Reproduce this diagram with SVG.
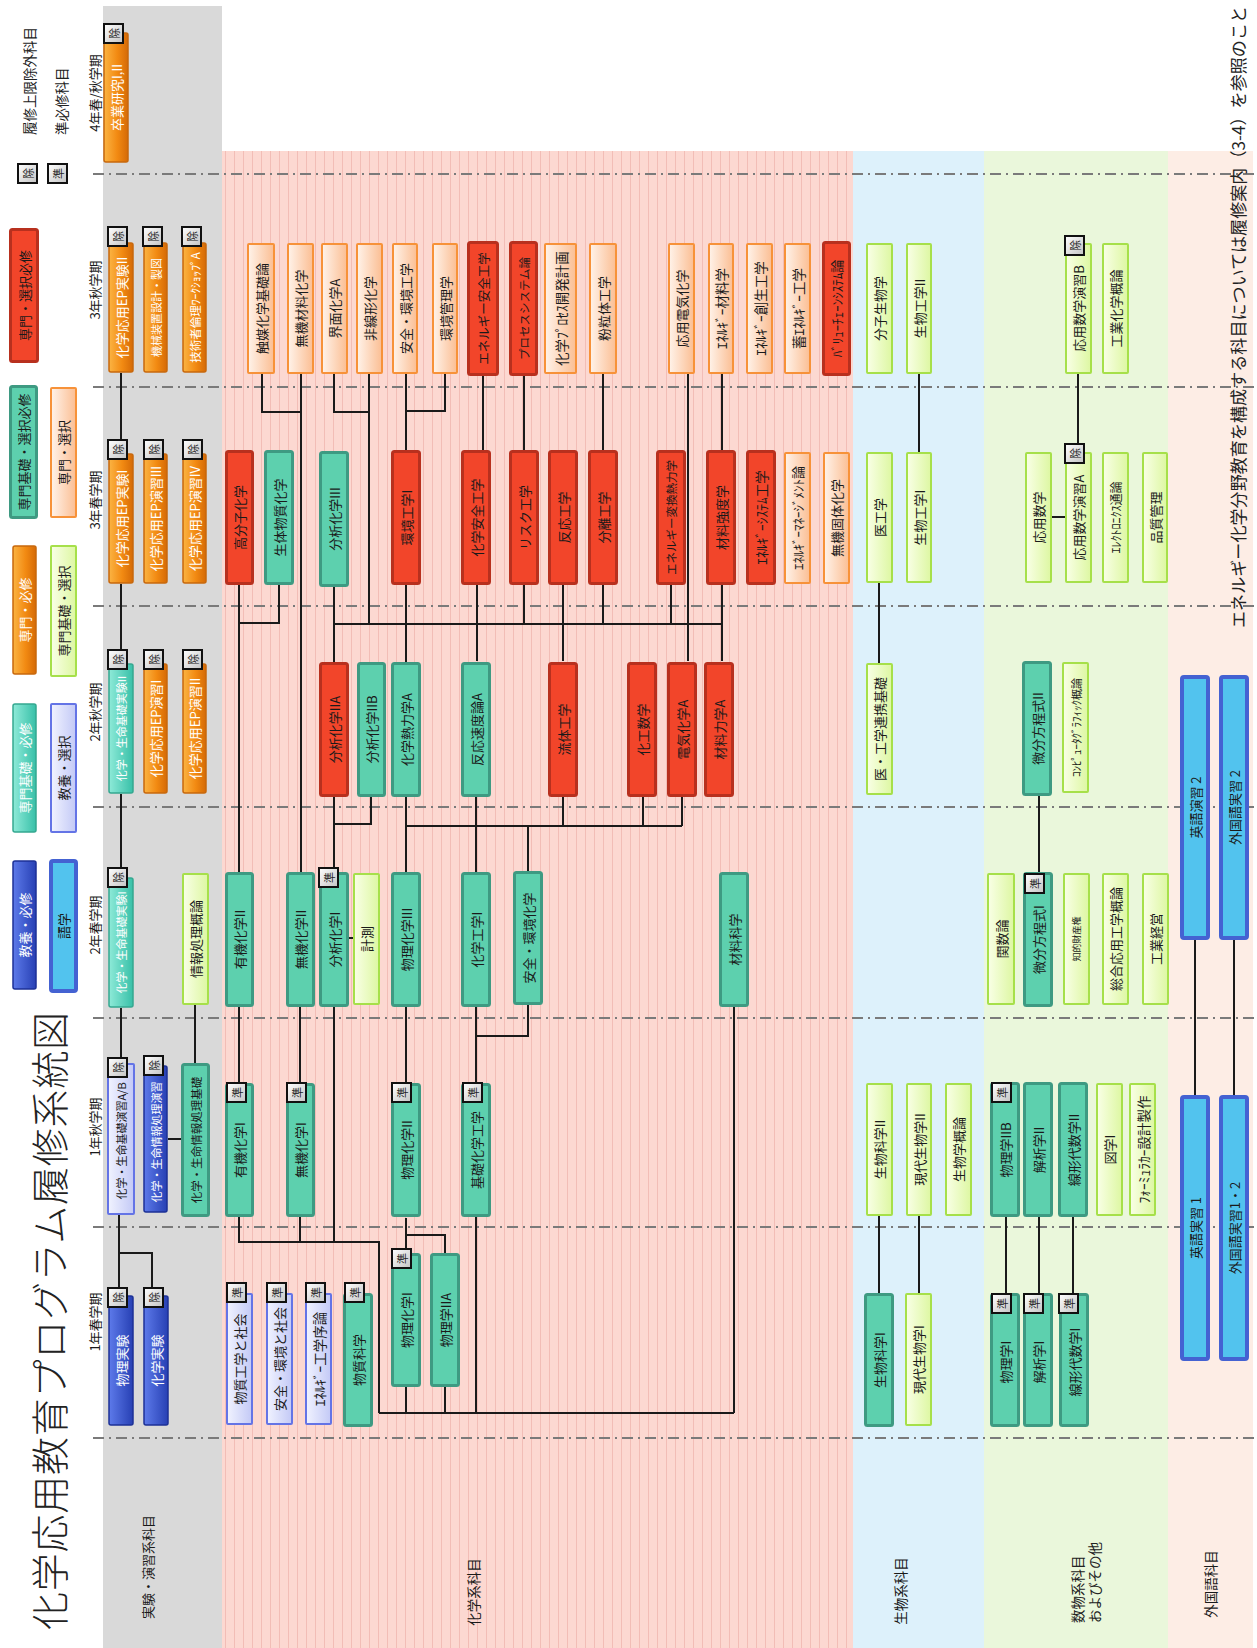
<svg xmlns="http://www.w3.org/2000/svg" width="1257" height="1648" viewBox="0 0 1257 1648">
<defs>
<pattern id="stripe" width="9" height="12" patternUnits="userSpaceOnUse"><rect width="9" height="12" fill="#FCD8D1"/><rect x="0" width="1" height="12" fill="#F2BDB6"/></pattern>
<linearGradient id="gOrange" x1="0" y1="0" x2="1" y2="0"><stop offset="0" stop-color="#FBB443"/><stop offset="0.55" stop-color="#F28A12"/><stop offset="1" stop-color="#D56A06"/></linearGradient>
<linearGradient id="gTealB" x1="0" y1="0" x2="1" y2="0"><stop offset="0" stop-color="#8EEAD8"/><stop offset="1" stop-color="#38C0A8"/></linearGradient>
<linearGradient id="gBlue" x1="0" y1="0" x2="1" y2="0"><stop offset="0" stop-color="#5D7AEA"/><stop offset="1" stop-color="#2740B4"/></linearGradient>
<linearGradient id="gLav" x1="0" y1="0" x2="1" y2="0"><stop offset="0" stop-color="#F1F3FF"/><stop offset="1" stop-color="#C3C9F6"/></linearGradient>
<linearGradient id="gPeach" x1="0" y1="0" x2="1" y2="0"><stop offset="0" stop-color="#FFF3EA"/><stop offset="1" stop-color="#FBBE93"/></linearGradient>
<linearGradient id="gGreen" x1="0" y1="0" x2="1" y2="0"><stop offset="0" stop-color="#F9FFE6"/><stop offset="1" stop-color="#DDF7A2"/></linearGradient>
<linearGradient id="gBadge" x1="0" y1="0" x2="1" y2="1"><stop offset="0" stop-color="#FFFFFF"/><stop offset="1" stop-color="#C4C4C4"/></linearGradient>
</defs>
<style>
.t{font-family:"Noto Sans CJK JP","Noto Sans",sans-serif;font-size:13px;fill:#1a1a1a;text-anchor:middle;dominant-baseline:central}
.tw{fill:#ffffff}
.lb{font-family:"Noto Sans CJK JP","Noto Sans",sans-serif;font-size:13px;fill:#222;dominant-baseline:central}
.orange{fill:url(#gOrange);stroke:#C8680C;stroke-width:1.5}
.tealb{fill:url(#gTealB);stroke:#34A890;stroke-width:1.5}
.blue{fill:url(#gBlue);stroke:#1C3196;stroke-width:1.5}
.lav{fill:url(#gLav);stroke:#6474E6;stroke-width:2}
.teal{fill:#5DD0AE;stroke:#3E9A82;stroke-width:3}
.red{fill:#F2452A;stroke:#B8301E;stroke-width:3}
.peach{fill:url(#gPeach);stroke:#F79239;stroke-width:2}
.green{fill:url(#gGreen);stroke:#A6E04A;stroke-width:2}
.lang{fill:#52C3EE;stroke:#4462D2;stroke-width:4}
.bdg{fill:url(#gBadge);stroke:#111;stroke-width:2}
.bt{font-family:"Noto Sans CJK JP",sans-serif;font-size:11px;fill:#222;text-anchor:middle;dominant-baseline:central}
.sep{stroke:#7a7a7a;stroke-width:2;stroke-dasharray:11 5 2 5;fill:none}
.cn{stroke:#1a1a1a;stroke-width:2;fill:none}
</style>

<!-- backgrounds -->
<g id="bands">
<rect x="103" y="6" width="119" height="1642" fill="#D9D9D9"/>
<rect x="222" y="151" width="631" height="1497" fill="url(#stripe)"/>
<rect x="853" y="151" width="131" height="1497" fill="#DDF1FB"/>
<rect x="984" y="151" width="184" height="1497" fill="#EAF7DB"/>
<rect x="1168" y="151" width="85" height="1497" fill="#FDEDE5"/>
</g>
<g id="separators">
<path class="sep" d="M93 174H1255M93 387H1255M93 606H1255M93 807H1255M93 1018H1255M93 1227H1255M93 1438H1255"/>
</g>

<!-- title, legend, labels -->
<text class="lb" style="font-size:38px;text-anchor:middle;font-weight:300" transform="translate(47 1321) rotate(-90)" textLength="618">化学応用教育プログラム履修系統図</text>
<text class="lb" style="font-size:17px" transform="translate(1237 628) rotate(-90)" textLength="622">エネルギー化学分野教育を構成する科目については履修案内（3-4）を参照のこと</text>

<g id="legend">
<rect class="red" x="10.5" y="229.5" width="27" height="132" rx="2"/><text class="t" transform="translate(24 295.5) rotate(-90)">専門・選択必修</text>
<rect class="teal" x="10.5" y="386.5" width="26" height="131" rx="2"/><text class="t" transform="translate(23.5 452) rotate(-90)">専門基礎・選択必修</text>
<rect class="peach" x="51" y="388" width="25" height="129" rx="1"/><text class="t" transform="translate(63.5 452.5) rotate(-90)">専門・選択</text>
<rect class="orange" x="13" y="546" width="23" height="128" rx="2"/><text class="t tw" transform="translate(24.5 610) rotate(-90)">専門・必修</text>
<rect class="green" x="51" y="546" width="25" height="130" rx="1"/><text class="t" transform="translate(63.5 611) rotate(-90)">専門基礎・選択</text>
<rect class="tealb" x="13" y="704" width="23" height="128" rx="2"/><text class="t tw" transform="translate(24.5 768) rotate(-90)">専門基礎・必修</text>
<rect class="lav" x="51" y="704" width="25" height="128" rx="1"/><text class="t" transform="translate(63.5 768) rotate(-90)">教養・選択</text>
<rect class="blue" x="13" y="861" width="23" height="128" rx="2"/><text class="t tw" transform="translate(24.5 925) rotate(-90)">教養・必修</text>
<rect class="lang" x="51" y="861" width="25" height="130" rx="2"/><text class="t" transform="translate(63.5 926) rotate(-90)">語学</text>
<rect class="bdg" x="18" y="164" width="19" height="19"/><text class="bt" transform="translate(27.5 173.5) rotate(-90)">除</text>
<rect class="bdg" x="48" y="164" width="19" height="19"/><text class="bt" transform="translate(57.5 173.5) rotate(-90)">準</text>
<text class="lb" style="font-size:13.5px" transform="translate(28.5 135) rotate(-90)">履修上限除外科目</text>
<text class="lb" style="font-size:13.5px" transform="translate(61 135) rotate(-90)">準必修科目</text>
</g>

<g id="period-labels">
<text class="t" transform="translate(94 93) rotate(-90)">4年春/秋学期</text>
<text class="t" transform="translate(94 290) rotate(-90)">3年秋学期</text>
<text class="t" transform="translate(94 500) rotate(-90)">3年春学期</text>
<text class="t" transform="translate(94 712) rotate(-90)">2年秋学期</text>
<text class="t" transform="translate(94 925) rotate(-90)">2年春学期</text>
<text class="t" transform="translate(94 1127) rotate(-90)">1年秋学期</text>
<text class="t" transform="translate(94 1322) rotate(-90)">1年春学期</text>
</g>

<g id="category-labels">
<text class="t" transform="translate(147 1567) rotate(-90)">実験・演習系科目</text>
<text class="t" style="font-size:13.5px" transform="translate(473 1592) rotate(-90)">化学系科目</text>
<text class="t" style="font-size:13.5px" transform="translate(900 1591) rotate(-90)">生物系科目</text>
<text class="lb" style="font-size:13.5px" transform="translate(1077 1623) rotate(-90)">数物系科目</text>
<text class="lb" style="font-size:13.5px" transform="translate(1094 1623) rotate(-90)">およびその他</text>
<text class="t" style="font-size:13.5px" transform="translate(1210 1584) rotate(-90)">外国語科目</text>
</g>

<!-- connectors -->
<g id="connectors" class="cn">
<path class="cn" d="M121 373V439M121 584V649M121 794V867M121 1008V1057M119 1215V1287M119 1253H152V1287M195 1005V1063M168 1139H181"/>
<path class="cn" d="M262 374V412H301M301 374V872M334 374V412H369M369 374V624M406 374V450M445 374V411H406M483 374V450M524 374V450M603 374V450M688 374V661M722 374V450"/>
<path class="cn" d="M239 585V872M279 585V623H239M334 587V662M334 624H722M406 585V662M477 585V661M524 585V624M563 585V661M603 585V624M671 585V624M722 585V661"/>
<path class="cn" d="M334 797V824H371V797M334 824V867M406 797V872M406 826H682M476 797V872M528 826V871M563 797V826M643 797V826M682 797V826"/>
<path class="cn" d="M239 1007V1083M300 1007V1083M334 1007V1242M349 938H353M406 1007V1082M476 1007V1082M528 1005V1036H476M734 1007V1413"/>
<path class="cn" d="M239 1217V1242H379V1413M300 1217V1242M406 1218V1248M406 1235H445V1253M476 1217V1413M406 1387V1413M445 1387V1413M379 1413H734"/>
<path class="cn" d="M919 374V452M879 583V663M1078 374V443M1052 517H1065M1039 796V872M879 1216V1293M919 1216V1293M1006 1217V1293M1039 1217V1293M1073 1217V1293M1195 940V1095M1234 940V1095"/>
</g>

<!-- experiment column -->
<g id="n01"><rect class="orange" x="104" y="33" width="24" height="129" rx="2"/><text class="t tw" transform="translate(116 97.5) rotate(-90)">卒業研究I,II</text><rect class="bdg" x="104" y="24" width="19" height="19"/><text class="bt" transform="translate(113.5 33.5) rotate(-90)">除</text></g>
<g id="n02"><rect class="orange" x="109" y="243" width="24" height="129" rx="2"/><text class="t tw" transform="translate(121 307.5) rotate(-90)">化学応用EP実験II</text><rect class="bdg" x="108" y="227" width="19" height="19"/><text class="bt" transform="translate(117.5 236.5) rotate(-90)">除</text></g>
<g id="n03"><rect class="orange" x="144" y="243" width="23" height="129" rx="2"/><text class="t tw" style="font-size:11px" transform="translate(155.5 307.5) rotate(-90)">機械装置設計・製図</text><rect class="bdg" x="143" y="227" width="19" height="19"/><text class="bt" transform="translate(152.5 236.5) rotate(-90)">除</text></g>
<g id="n04"><rect class="orange" x="183" y="243" width="23" height="129" rx="2"/><text class="t tw" style="font-size:11.5px" transform="translate(194.5 307.5) rotate(-90)">技術者倫理ﾜｰｸｼｮｯﾌﾟA</text><rect class="bdg" x="182" y="227" width="19" height="19"/><text class="bt" transform="translate(191.5 236.5) rotate(-90)">除</text></g>
<g id="n05"><rect class="orange" x="109" y="454" width="24" height="129" rx="2"/><text class="t tw" transform="translate(121 518.5) rotate(-90)">化学応用EP実験I</text><rect class="bdg" x="108" y="440" width="19" height="19"/><text class="bt" transform="translate(117.5 449.5) rotate(-90)">除</text></g>
<g id="n06"><rect class="orange" x="144" y="454" width="23" height="129" rx="2"/><text class="t tw" transform="translate(155.5 518.5) rotate(-90)">化学応用EP演習III</text><rect class="bdg" x="144" y="440" width="19" height="19"/><text class="bt" transform="translate(153.5 449.5) rotate(-90)">除</text></g>
<g id="n07"><rect class="orange" x="183" y="454" width="23" height="129" rx="2"/><text class="t tw" transform="translate(194.5 518.5) rotate(-90)">化学応用EP演習IV</text><rect class="bdg" x="183" y="440" width="19" height="19"/><text class="bt" transform="translate(192.5 449.5) rotate(-90)">除</text></g>
<g id="n08"><rect class="tealb" x="109" y="664" width="24" height="129" rx="2"/><text class="t tw" style="font-size:11px" transform="translate(121 728.5) rotate(-90)">化学・生命基礎実験II</text><rect class="bdg" x="108" y="650" width="19" height="19"/><text class="bt" transform="translate(117.5 659.5) rotate(-90)">除</text></g>
<g id="n09"><rect class="orange" x="144" y="664" width="23" height="129" rx="2"/><text class="t tw" transform="translate(155.5 728.5) rotate(-90)">化学応用EP演習I</text><rect class="bdg" x="144" y="650" width="19" height="19"/><text class="bt" transform="translate(153.5 659.5) rotate(-90)">除</text></g>
<g id="n10"><rect class="orange" x="183" y="664" width="23" height="129" rx="2"/><text class="t tw" transform="translate(194.5 728.5) rotate(-90)">化学応用EP演習II</text><rect class="bdg" x="183" y="650" width="19" height="19"/><text class="bt" transform="translate(192.5 659.5) rotate(-90)">除</text></g>
<g id="n11"><rect class="tealb" x="109" y="878" width="24" height="129" rx="2"/><text class="t tw" style="font-size:11px" transform="translate(121 942.5) rotate(-90)">化学・生命基礎実験I</text><rect class="bdg" x="108" y="868" width="19" height="19"/><text class="bt" transform="translate(117.5 877.5) rotate(-90)">除</text></g>
<g id="n12"><rect class="green" x="183" y="874" width="25" height="130" rx="1"/><text class="t" transform="translate(195.5 939) rotate(-90)">情報処理概論</text></g>
<g id="n13"><rect class="lav" x="108" y="1064" width="26" height="150" rx="1"/><text class="t" style="font-size:11px" transform="translate(121 1141) rotate(-90)">化学・生命基礎演習A/B</text><rect class="bdg" x="108" y="1058" width="19" height="19"/><text class="bt" transform="translate(117.5 1067.5) rotate(-90)">除</text></g>
<g id="n14"><rect class="blue" x="144" y="1066" width="23" height="146" rx="2"/><text class="t tw" style="font-size:11px" transform="translate(155.5 1142) rotate(-90)">化学・生命情報処理演習</text><rect class="bdg" x="144" y="1056" width="19" height="19"/><text class="bt" transform="translate(153.5 1065.5) rotate(-90)">除</text></g>
<g id="n15"><rect class="teal" x="182.5" y="1064.5" width="26" height="151" rx="2"/><text class="t" style="font-size:11.5px" transform="translate(195.5 1140) rotate(-90)">化学・生命情報処理基礎</text></g>
<g id="n16"><rect class="blue" x="109" y="1296" width="24" height="129" rx="2"/><text class="t tw" transform="translate(121 1360.5) rotate(-90)">物理実験</text><rect class="bdg" x="108" y="1288" width="19" height="19"/><text class="bt" transform="translate(117.5 1297.5) rotate(-90)">除</text></g>
<g id="n17"><rect class="blue" x="144" y="1296" width="24" height="129" rx="2"/><text class="t tw" transform="translate(156 1360.5) rotate(-90)">化学実験</text><rect class="bdg" x="144" y="1288" width="19" height="19"/><text class="bt" transform="translate(153.5 1297.5) rotate(-90)">除</text></g>

<!-- 3年秋 -->
<g id="n18"><rect class="peach" x="248" y="244" width="26" height="129" rx="1"/><text class="t" transform="translate(261 308.5) rotate(-90)">触媒化学基礎論</text></g>
<g id="n19"><rect class="peach" x="288" y="244" width="25" height="129" rx="1"/><text class="t" transform="translate(300.5 308.5) rotate(-90)">無機材料化学</text></g>
<g id="n20"><rect class="peach" x="322" y="244" width="25" height="129" rx="1"/><text class="t" transform="translate(334.5 308.5) rotate(-90)">界面化学A</text></g>
<g id="n21"><rect class="peach" x="357" y="244" width="25" height="129" rx="1"/><text class="t" transform="translate(369.5 308.5) rotate(-90)">非線形化学</text></g>
<g id="n22"><rect class="peach" x="393" y="244" width="24" height="129" rx="1"/><text class="t" transform="translate(405 308.5) rotate(-90)">安全・環境工学</text></g>
<g id="n23"><rect class="peach" x="433" y="244" width="24" height="129" rx="1"/><text class="t" transform="translate(445 308.5) rotate(-90)">環境管理学</text></g>
<g id="n24"><rect class="red" x="468.5" y="242.5" width="29" height="132" rx="2"/><text class="t" style="font-size:12.5px" transform="translate(483 308.5) rotate(-90)">エネルギー安全工学</text></g>
<g id="n25"><rect class="red" x="510.5" y="242.5" width="26" height="132" rx="2"/><text class="t" style="font-size:11.5px" transform="translate(523.5 308.5) rotate(-90)">プロセスシステム論</text></g>
<g id="n26"><rect class="peach" x="545" y="244" width="31" height="129" rx="1"/><text class="t" style="font-size:13.5px" transform="translate(560.5 308.5) rotate(-90)">化学ﾌﾟﾛｾｽ開発計画</text></g>
<g id="n27"><rect class="peach" x="590" y="244" width="26" height="129" rx="1"/><text class="t" transform="translate(603 308.5) rotate(-90)">粉粒体工学</text></g>
<g id="n28"><rect class="peach" x="669" y="244" width="25" height="129" rx="1"/><text class="t" transform="translate(681.5 308.5) rotate(-90)">応用電気化学</text></g>
<g id="n29"><rect class="peach" x="709" y="244" width="24" height="129" rx="1"/><text class="t" style="font-size:13.5px" transform="translate(721 308.5) rotate(-90)">ｴﾈﾙｷﾞｰ材料学</text></g>
<g id="n30"><rect class="peach" x="747" y="244" width="25" height="129" rx="1"/><text class="t" style="font-size:13.5px" transform="translate(759.5 308.5) rotate(-90)">ｴﾈﾙｷﾞｰ創生工学</text></g>
<g id="n31"><rect class="peach" x="785" y="244" width="25" height="129" rx="1"/><text class="t" style="font-size:13.5px" transform="translate(797.5 308.5) rotate(-90)">蓄ｴﾈﾙｷﾞｰ工学</text></g>
<g id="n32"><rect class="red" x="823.5" y="242.5" width="26" height="132" rx="2"/><text class="t" transform="translate(836.5 308.5) rotate(-90)">ﾊﾞﾘｭｰﾁｪｰﾝｼｽﾃﾑ論</text></g>
<g id="n33"><rect class="green" x="867" y="244" width="25" height="129" rx="1"/><text class="t" transform="translate(879.5 308.5) rotate(-90)">分子生物学</text></g>
<g id="n34"><rect class="green" x="907" y="244" width="24" height="129" rx="1"/><text class="t" transform="translate(919 308.5) rotate(-90)">生物工学II</text></g>
<g id="n35"><rect class="green" x="1066" y="244" width="25" height="129" rx="1"/><text class="t" transform="translate(1078.5 308.5) rotate(-90)">応用数学演習B</text><rect class="bdg" x="1065" y="236" width="19" height="19"/><text class="bt" transform="translate(1074.5 245.5) rotate(-90)">除</text></g>
<g id="n36"><rect class="green" x="1103" y="244" width="25" height="129" rx="1"/><text class="t" transform="translate(1115.5 308.5) rotate(-90)">工業化学概論</text></g>

<!-- 3年春 -->
<g id="n37"><rect class="red" x="226.5" y="451.5" width="26" height="132" rx="2"/><text class="t" transform="translate(239.5 517.5) rotate(-90)">高分子化学</text></g>
<g id="n38"><rect class="teal" x="265.5" y="451.5" width="27" height="132" rx="2"/><text class="t" transform="translate(279 517.5) rotate(-90)">生体物質化学</text></g>
<g id="n39"><rect class="teal" x="320.5" y="452.5" width="27" height="133" rx="2"/><text class="t" transform="translate(334 519) rotate(-90)">分析化学III</text></g>
<g id="n40"><rect class="red" x="392.5" y="451.5" width="27" height="132" rx="2"/><text class="t" transform="translate(406 517.5) rotate(-90)">環境工学I</text></g>
<g id="n41"><rect class="red" x="462.5" y="451.5" width="27" height="132" rx="2"/><text class="t" transform="translate(476 517.5) rotate(-90)">化学安全工学</text></g>
<g id="n42"><rect class="red" x="510.5" y="451.5" width="27" height="132" rx="2"/><text class="t" transform="translate(524 517.5) rotate(-90)">リスク工学</text></g>
<g id="n43"><rect class="red" x="549.5" y="451.5" width="27" height="132" rx="2"/><text class="t" transform="translate(563 517.5) rotate(-90)">反応工学</text></g>
<g id="n44"><rect class="red" x="589.5" y="451.5" width="27" height="132" rx="2"/><text class="t" transform="translate(603 517.5) rotate(-90)">分離工学</text></g>
<g id="n45"><rect class="red" x="657.5" y="451.5" width="27" height="132" rx="2"/><text class="t" style="font-size:11.5px" transform="translate(671 517.5) rotate(-90)">エネルギー変換熱力学</text></g>
<g id="n46"><rect class="red" x="707.5" y="451.5" width="27" height="132" rx="2"/><text class="t" transform="translate(721 517.5) rotate(-90)">材料強度学</text></g>
<g id="n47"><rect class="red" x="747.5" y="451.5" width="27" height="132" rx="2"/><text class="t" style="font-size:13.5px" transform="translate(761 517.5) rotate(-90)">ｴﾈﾙｷﾞｰｼｽﾃﾑ工学</text></g>
<g id="n48"><rect class="peach" x="785" y="453" width="25" height="130" rx="1"/><text class="t" transform="translate(797.5 518) rotate(-90)">ｴﾈﾙｷﾞｰﾏﾈｰｼﾞﾒﾝﾄ論</text></g>
<g id="n49"><rect class="peach" x="824" y="453" width="25" height="130" rx="1"/><text class="t" transform="translate(836.5 518) rotate(-90)">無機固体化学</text></g>
<g id="n50"><rect class="green" x="867" y="453" width="25" height="129" rx="1"/><text class="t" transform="translate(879.5 517.5) rotate(-90)">医工学</text></g>
<g id="n51"><rect class="green" x="907" y="453" width="24" height="129" rx="1"/><text class="t" transform="translate(919 517.5) rotate(-90)">生物工学I</text></g>
<g id="n52"><rect class="green" x="1026" y="453" width="25" height="129" rx="1"/><text class="t" transform="translate(1038.5 517.5) rotate(-90)">応用数学</text></g>
<g id="n53"><rect class="green" x="1066" y="453" width="25" height="129" rx="1"/><text class="t" transform="translate(1078.5 517.5) rotate(-90)">応用数学演習A</text><rect class="bdg" x="1065" y="444" width="19" height="19"/><text class="bt" transform="translate(1074.5 453.5) rotate(-90)">除</text></g>
<g id="n54"><rect class="green" x="1103" y="453" width="25" height="129" rx="1"/><text class="t" style="font-size:12px" transform="translate(1115.5 517.5) rotate(-90)">ｴﾚｸﾄﾛﾆｸｽ通論</text></g>
<g id="n55"><rect class="green" x="1143" y="453" width="24" height="129" rx="1"/><text class="t" transform="translate(1155 517.5) rotate(-90)">品質管理</text></g>

<!-- 2年秋 -->
<g id="n56"><rect class="red" x="320.5" y="663.5" width="27" height="132" rx="2"/><text class="t" transform="translate(334 729.5) rotate(-90)">分析化学IIA</text></g>
<g id="n57"><rect class="teal" x="358.5" y="663.5" width="26" height="132" rx="2"/><text class="t" transform="translate(371.5 729.5) rotate(-90)">分析化学IIB</text></g>
<g id="n58"><rect class="teal" x="392.5" y="663.5" width="27" height="132" rx="2"/><text class="t" transform="translate(406 729.5) rotate(-90)">化学熱力学A</text></g>
<g id="n59"><rect class="teal" x="462.5" y="663.5" width="27" height="132" rx="2"/><text class="t" transform="translate(476 729.5) rotate(-90)">反応速度論A</text></g>
<g id="n60"><rect class="red" x="549.5" y="663.5" width="27" height="132" rx="2"/><text class="t" transform="translate(563 729.5) rotate(-90)">流体工学</text></g>
<g id="n61"><rect class="red" x="628.5" y="663.5" width="27" height="132" rx="2"/><text class="t" transform="translate(642 729.5) rotate(-90)">化工数学</text></g>
<g id="n62"><rect class="red" x="668.5" y="663.5" width="27" height="132" rx="2"/><text class="t" transform="translate(682 729.5) rotate(-90)">電気化学A</text></g>
<g id="n63"><rect class="red" x="705.5" y="663.5" width="27" height="132" rx="2"/><text class="t" transform="translate(719 729.5) rotate(-90)">材料力学A</text></g>
<g id="n64"><rect class="green" x="867" y="664" width="25" height="130" rx="1"/><text class="t" transform="translate(879.5 729) rotate(-90)">医・工学連携基礎</text></g>
<g id="n65"><rect class="teal" x="1023.5" y="662.5" width="27" height="132" rx="2"/><text class="t" transform="translate(1037 728.5) rotate(-90)">微分方程式II</text></g>
<g id="n66"><rect class="green" x="1063" y="663" width="25" height="129" rx="1"/><text class="t" style="font-size:11px" transform="translate(1075.5 727.5) rotate(-90)">ｺﾝﾋﾟｭｰﾀｸﾞﾗﾌｨｯｸ概論</text></g>
<g id="n67"><rect class="lang" x="1182" y="677" width="26" height="261" rx="2"/><text class="t" transform="translate(1195 807.5) rotate(-90)">英語演習 2</text></g>
<g id="n68"><rect class="lang" x="1221" y="677" width="26" height="261" rx="2"/><text class="t" transform="translate(1234 807.5) rotate(-90)">外国語実習 2</text></g>

<!-- 2年春 -->
<g id="n69"><rect class="teal" x="226.5" y="873.5" width="26" height="132" rx="2"/><text class="t" transform="translate(239.5 939.5) rotate(-90)">有機化学II</text></g>
<g id="n70"><rect class="teal" x="287.5" y="873.5" width="26" height="132" rx="2"/><text class="t" transform="translate(300.5 939.5) rotate(-90)">無機化学II</text></g>
<g id="n71"><rect class="teal" x="320.5" y="873.5" width="27" height="132" rx="2"/><text class="t" transform="translate(334 939.5) rotate(-90)">分析化学I</text><rect class="bdg" x="319" y="868" width="19" height="19"/><text class="bt" transform="translate(328.5 877.5) rotate(-90)">準</text></g>
<g id="n72"><rect class="green" x="354" y="874" width="25" height="130" rx="1"/><text class="t" transform="translate(366.5 939) rotate(-90)">計測</text></g>
<g id="n73"><rect class="teal" x="392.5" y="873.5" width="27" height="132" rx="2"/><text class="t" transform="translate(406 939.5) rotate(-90)">物理化学III</text></g>
<g id="n74"><rect class="teal" x="462.5" y="873.5" width="27" height="132" rx="2"/><text class="t" transform="translate(476 939.5) rotate(-90)">化学工学I</text></g>
<g id="n75"><rect class="teal" x="514.5" y="872.5" width="27" height="131" rx="2"/><text class="t" transform="translate(528 938) rotate(-90)">安全・環境化学</text></g>
<g id="n76"><rect class="teal" x="720.5" y="873.5" width="27" height="132" rx="2"/><text class="t" transform="translate(734 939.5) rotate(-90)">材料科学</text></g>
<g id="n77"><rect class="green" x="988" y="874" width="26" height="130" rx="1"/><text class="t" transform="translate(1001 939) rotate(-90)">関数論</text></g>
<g id="n78"><rect class="teal" x="1024.5" y="873.5" width="27" height="132" rx="2"/><text class="t" transform="translate(1038 939.5) rotate(-90)">微分方程式I</text><rect class="bdg" x="1025" y="874" width="19" height="19"/><text class="bt" transform="translate(1034.5 883.5) rotate(-90)">準</text></g>
<g id="n79"><rect class="green" x="1064" y="874" width="25" height="130" rx="1"/><text class="t" style="font-size:9px" transform="translate(1076.5 939) rotate(-90)">知的財産権</text></g>
<g id="n80"><rect class="green" x="1103" y="874" width="25" height="130" rx="1"/><text class="t" transform="translate(1115.5 939) rotate(-90)">総合応用工学概論</text></g>
<g id="n81"><rect class="green" x="1143" y="874" width="25" height="130" rx="1"/><text class="t" transform="translate(1155.5 939) rotate(-90)">工業経営</text></g>

<!-- 1年秋 -->
<g id="n82"><rect class="teal" x="226.5" y="1084.5" width="26" height="131" rx="2"/><text class="t" transform="translate(239.5 1150) rotate(-90)">有機化学I</text><rect class="bdg" x="227" y="1083" width="19" height="19"/><text class="bt" transform="translate(236.5 1092.5) rotate(-90)">準</text></g>
<g id="n83"><rect class="teal" x="287.5" y="1084.5" width="26" height="131" rx="2"/><text class="t" transform="translate(300.5 1150) rotate(-90)">無機化学I</text><rect class="bdg" x="287" y="1083" width="19" height="19"/><text class="bt" transform="translate(296.5 1092.5) rotate(-90)">準</text></g>
<g id="n84"><rect class="teal" x="392.5" y="1084.5" width="27" height="131" rx="2"/><text class="t" transform="translate(406 1150) rotate(-90)">物理化学II</text><rect class="bdg" x="392" y="1083" width="19" height="19"/><text class="bt" transform="translate(401.5 1092.5) rotate(-90)">準</text></g>
<g id="n85"><rect class="teal" x="462.5" y="1084.5" width="27" height="131" rx="2"/><text class="t" transform="translate(476 1150) rotate(-90)">基礎化学工学</text><rect class="bdg" x="463" y="1083" width="19" height="19"/><text class="bt" transform="translate(472.5 1092.5) rotate(-90)">準</text></g>
<g id="n86"><rect class="green" x="867" y="1084" width="25" height="131" rx="1"/><text class="t" transform="translate(879.5 1149.5) rotate(-90)">生物科学II</text></g>
<g id="n87"><rect class="green" x="907" y="1084" width="24" height="131" rx="1"/><text class="t" transform="translate(919 1149.5) rotate(-90)">現代生物学II</text></g>
<g id="n88"><rect class="green" x="946" y="1084" width="25" height="131" rx="1"/><text class="t" transform="translate(958.5 1149.5) rotate(-90)">生物学概論</text></g>
<g id="n89"><rect class="teal" x="991.5" y="1083.5" width="27" height="132" rx="2"/><text class="t" transform="translate(1005 1150) rotate(-90)">物理学IIB</text><rect class="bdg" x="992" y="1083" width="19" height="19"/><text class="bt" transform="translate(1001.5 1092.5) rotate(-90)">準</text></g>
<g id="n90"><rect class="teal" x="1024.5" y="1083.5" width="27" height="132" rx="2"/><text class="t" transform="translate(1038 1150) rotate(-90)">解析学II</text></g>
<g id="n91"><rect class="teal" x="1059.5" y="1083.5" width="27" height="132" rx="2"/><text class="t" transform="translate(1073 1150) rotate(-90)">線形代数学II</text></g>
<g id="n92"><rect class="green" x="1097" y="1084" width="25" height="131" rx="1"/><text class="t" transform="translate(1109.5 1149.5) rotate(-90)">図学I</text></g>
<g id="n93"><rect class="green" x="1130" y="1084" width="25" height="131" rx="1"/><text class="t" style="font-size:13.5px" transform="translate(1142.5 1149.5) rotate(-90)">ﾌｫｰﾐｭﾗｶｰ設計製作</text></g>
<g id="n94"><rect class="lang" x="1182" y="1097" width="26" height="262" rx="2"/><text class="t" transform="translate(1195 1228) rotate(-90)">英語実習 1</text></g>
<g id="n95"><rect class="lang" x="1221" y="1097" width="26" height="262" rx="2"/><text class="t" transform="translate(1234 1228) rotate(-90)">外国語実習1・2</text></g>

<!-- 1年春 -->
<g id="n96"><rect class="lav" x="227" y="1294" width="25" height="130" rx="1"/><text class="t" transform="translate(239.5 1359) rotate(-90)">物質工学と社会</text><rect class="bdg" x="227" y="1283" width="19" height="19"/><text class="bt" transform="translate(236.5 1292.5) rotate(-90)">準</text></g>
<g id="n97"><rect class="lav" x="267" y="1294" width="25" height="130" rx="1"/><text class="t" transform="translate(279.5 1359) rotate(-90)">安全・環境と社会</text><rect class="bdg" x="267" y="1283" width="19" height="19"/><text class="bt" transform="translate(276.5 1292.5) rotate(-90)">準</text></g>
<g id="n98"><rect class="lav" x="306" y="1294" width="25" height="130" rx="1"/><text class="t" style="font-size:13.5px" transform="translate(318.5 1359) rotate(-90)">ｴﾈﾙｷﾞｰ工学序論</text><rect class="bdg" x="306" y="1283" width="19" height="19"/><text class="bt" transform="translate(315.5 1292.5) rotate(-90)">準</text></g>
<g id="n99"><rect class="teal" x="344.5" y="1294.5" width="27" height="131" rx="2"/><text class="t" transform="translate(358 1360) rotate(-90)">物質科学</text><rect class="bdg" x="345" y="1283" width="19" height="19"/><text class="bt" transform="translate(354.5 1292.5) rotate(-90)">準</text></g>
<g id="n100"><rect class="teal" x="392.5" y="1254.5" width="27" height="131" rx="2"/><text class="t" transform="translate(406 1320) rotate(-90)">物理化学I</text><rect class="bdg" x="392" y="1249" width="19" height="19"/><text class="bt" transform="translate(401.5 1258.5) rotate(-90)">準</text></g>
<g id="n101"><rect class="teal" x="431.5" y="1254.5" width="27" height="131" rx="2"/><text class="t" transform="translate(445 1320) rotate(-90)">物理学IIA</text></g>
<g id="n102"><rect class="teal" x="865.5" y="1294.5" width="27" height="131" rx="2"/><text class="t" transform="translate(879 1360) rotate(-90)">生物科学I</text></g>
<g id="n103"><rect class="green" x="906" y="1294" width="25" height="131" rx="1"/><text class="t" transform="translate(918.5 1359.5) rotate(-90)">現代生物学I</text></g>
<g id="n104"><rect class="teal" x="991.5" y="1294.5" width="27" height="131" rx="2"/><text class="t" transform="translate(1005 1362) rotate(-90)">物理学I</text><rect class="bdg" x="992" y="1294" width="19" height="19"/><text class="bt" transform="translate(1001.5 1303.5) rotate(-90)">準</text></g>
<g id="n105"><rect class="teal" x="1024.5" y="1294.5" width="27" height="131" rx="2"/><text class="t" transform="translate(1038 1362) rotate(-90)">解析学I</text><rect class="bdg" x="1024" y="1294" width="19" height="19"/><text class="bt" transform="translate(1033.5 1303.5) rotate(-90)">準</text></g>
<g id="n106"><rect class="teal" x="1060.5" y="1294.5" width="27" height="131" rx="2"/><text class="t" transform="translate(1074 1362) rotate(-90)">線形代数学I</text><rect class="bdg" x="1059" y="1294" width="19" height="19"/><text class="bt" transform="translate(1068.5 1303.5) rotate(-90)">準</text></g>
</svg>
